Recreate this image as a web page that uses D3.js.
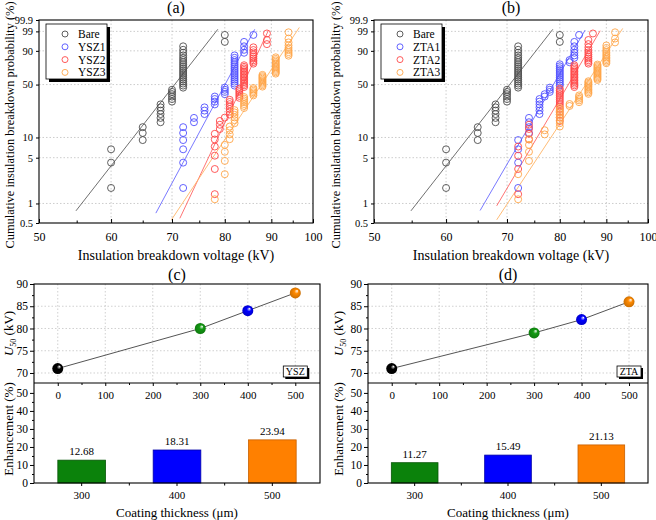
<!DOCTYPE html>
<html>
<head>
<meta charset="utf-8">
<script src="https://cdn.jsdelivr.net/npm/d3@7/dist/d3.min.js"></script>
<style>
body{margin:0;background:#fff;}
svg{display:block;}
text{font-family:"Liberation Serif","Times New Roman",serif;fill:#000;}
</style>
</head>
<body>
<svg id="chart" width="656" height="520"></svg>
<script>
// ---------------- data ----------------
const probTicks = [0.5, 1, 5, 10, 50, 90, 99, 99.9];
const voltTicks = [50, 60, 70, 80, 90, 100];
const voltMinor = [55, 65, 75, 85, 95];

// median-rank probabilities (%) for samples of 40, 50, 60
const rank40 = [1.73,4.21,6.68,9.16,11.63,14.11,16.58,19.06,21.53,24.01,
  26.49,28.96,31.44,33.91,36.39,38.86,41.34,43.81,46.29,48.76,
  51.24,53.71,56.19,58.66,61.14,63.61,66.09,68.56,71.04,73.51,
  75.99,78.47,80.94,83.42,85.89,88.37,90.84,93.32,95.79,98.27];
const rank50 = [1.39,3.37,5.36,7.34,9.33,11.31,13.29,15.28,17.26,19.25,
  21.23,23.21,25.20,27.18,29.17,31.15,33.13,35.12,37.10,39.09,
  41.07,43.06,45.04,47.02,49.01,50.99,52.98,54.96,56.94,58.93,
  60.91,62.90,64.88,66.87,68.85,70.83,72.82,74.80,76.79,78.77,
  80.75,82.74,84.72,86.71,88.69,90.67,92.66,94.64,96.63,98.61];
const rank60 = [1.16,2.81,4.47,6.13,7.78,9.44,11.09,12.75,14.40,16.06,
  17.72,19.37,21.03,22.68,24.34,25.99,27.65,29.30,30.96,32.62,
  34.27,35.93,37.58,39.24,40.89,42.55,44.21,45.86,47.52,49.17,
  50.83,52.48,54.14,55.79,57.45,59.11,60.76,62.42,64.07,65.73,
  67.38,69.04,70.70,72.35,74.01,75.66,77.32,78.97,80.63,82.28,
  83.94,85.60,87.25,88.91,90.56,92.22,93.87,95.53,97.18,98.84];

// breakdown voltages (kV), sorted
const bareV = [60,60,60,65,65,65,68,68,68,68,68,68,70,70,70,70,70,70,
  72,72,72,72,72,72,72,72,72,72,72,72,72,72,72,72,72,72,72,72,80,80];
const ysz1V = [72,72,72,72,72,72,74,74,76,76,76,78,78,78,78,80,80,80,80,
  82,82,82,82,82,82,82,82,82,82,82,82,82,82,82,82,84,84,84,84,86];
const ysz2V = [78,78,78,78,78,78,79,79,79,80,81,81,81,81,81,81,81,
  83,83,83,83,83,83,84,84,84,84,84,84,84,84,84,84,84,84,84,84,84,
  86,86,86,86,86,86,86,86,86,89,89,89];
const ysz3V = [78,80,80,80,80,81,81,81,81,82,82,82,82,82,82,
  84,84,84,84,84,84,84,86,86,86,86,86,86,
  88,88,88,88,88,88,88,88,88,88,
  91,91,91,91,91,91,91,91,91,91,91,91,91,
  94,94,94,94,94,94,94,94,94];
const zta1V = [72,72,72,72,74,74,74,74,76,76,76,76,76,76,77,77,78,78,78,
  80,80,80,80,80,80,80,80,80,80,80,80,82,82,83,83,83,83,83,83,84];
const zta2V = [72,72,72,72,74,74,74,74,
  80,80,80,80,80,80,80,80,80,80,80,80,80,80,80,
  83,83,83,83,83,83,83,83,83,83,83,83,83,83,83,
  86,86,86,86,86,86,86,86,86,86,86,87];
const zta3V = [72,72,74,74,74,74,77,77,80,80,80,80,80,80,80,80,82,82,
  84,84,84,84,84,86,86,86,86,86,86,86,86,86,86,
  88,88,88,88,88,88,88,88,88,88,88,88,88,
  90,90,90,90,90,90,90,90,90,90,90,92,92,92];

const legendA = ["Bare","YSZ1","YSZ2","YSZ3"];
const legendB = ["Bare","ZTA1","ZTA2","ZTA3"];
// Weibull fit lines: [kV start, % start, kV end, % end]
const fitA = [[54.9,0.77,78.6,99.3],[67.2,0.71,86.3,99.3],[71.4,0.59,89.3,99.1],[69.9,0.56,96.6,99.5]];
const fitB = [[54.9,0.77,78.6,99.3],[65.4,0.78,85.3,99.2],[68.2,0.92,88.6,99.1],[68.2,0.56,93.8,99.4]];

const thickness = [0, 300, 400, 500];
const u50YSZ = [71, 80, 84, 88];
const u50ZTA = [71, 79, 82, 86];
const thicknessCats = ["300", "400", "500"];
const enhYSZ = [12.68, 18.31, 23.94];
const enhZTA = [11.27, 15.49, 21.13];
const u50Ticks = [70, 75, 80, 85, 90];
const u50Minor = [72.5, 77.5, 82.5, 87.5];
const enhTicks = [0, 10, 20, 30, 40, 50];
const enhMinor = [5, 15, 25, 35, 45];
const thickTicks = [0, 100, 200, 300, 400, 500];
const thickMinor = [50, 150, 250, 350, 450];

const seriesColors = ["#4d4d4d", "#5050ff", "#ff4848", "#ffa64a"];
const lineColors = ["#606060", "#6a6aff", "#ff6464", "#ffb466"];
const sphereColors = ["#000000", "#139a13", "#0000ff", "#ff8a00"];
const barColors = ["#0b820b", "#0000ff", "#ff8000"];
const barStroke = ["#075507", "#0000a8", "#c86000"];

// ---------------- drawing ----------------
const svg = d3.select("#chart");
const W = p => Math.log(-Math.log(1 - p / 100));

const defs = svg.append("defs");
sphereColors.forEach((col, i) => {
  const gr = defs.append("radialGradient").attr("id", "sph" + i)
    .attr("cx", "0.45").attr("cy", "0.55").attr("r", "0.6")
    .attr("fx", "0.68").attr("fy", "0.3");
  gr.append("stop").attr("offset", "0").attr("stop-color", "#ffffff");
  gr.append("stop").attr("offset", "0.32").attr("stop-color", col);
  gr.append("stop").attr("offset", "1").attr("stop-color", d3.color(col).darker(0.9));
});

function styleAxis(sel, size) {
  sel.select(".domain").remove();
  sel.selectAll(".tick line").attr("stroke", "#000");
  sel.selectAll(".tick text").attr("font-size", size)
    .attr("font-family", "'Liberation Serif','Times New Roman',serif").attr("fill", "#000");
}

function weibullPanel(c) {
  const x = d3.scaleLog().domain([50, 100]).range([c.x0, c.x1]);
  const yl = d3.scaleLinear().domain([W(0.5), W(99.9)]).range([c.y1, c.y0]);
  const y = p => yl(W(p));
  const g = svg.append("g");

  g.append("g").selectAll("line").data(voltTicks.slice(1, -1)).join("line")
    .attr("x1", d => x(d)).attr("x2", d => x(d)).attr("y1", c.y0).attr("y2", c.y1)
    .attr("stroke", "#bfbfbf").attr("stroke-width", 0.8).attr("stroke-dasharray", "1.5,2");
  g.append("g").selectAll("line").data(probTicks.slice(1, -1)).join("line")
    .attr("y1", d => y(d)).attr("y2", d => y(d)).attr("x1", c.x0).attr("x2", c.x1)
    .attr("stroke", "#bfbfbf").attr("stroke-width", 0.8).attr("stroke-dasharray", "1.5,2");

  g.append("g").selectAll("line").data(c.fits).join("line")
    .attr("x1", d => x(d[0])).attr("y1", d => y(d[1]))
    .attr("x2", d => x(d[2])).attr("y2", d => y(d[3]))
    .attr("stroke", (d, i) => lineColors[i]).attr("stroke-width", 0.9);

  c.series.forEach((s, i) => {
    g.append("g").selectAll("circle")
      .data(s.v.map((v, k) => ({ v: v, p: s.p[k] }))).join("circle")
      .attr("cx", d => x(d.v)).attr("cy", d => y(d.p)).attr("r", 3.5)
      .attr("fill", "none").attr("stroke", seriesColors[i]).attr("stroke-width", 0.9);
  });

  g.append("rect").attr("x", c.x0).attr("y", c.y0)
    .attr("width", c.x1 - c.x0).attr("height", c.y1 - c.y0)
    .attr("fill", "none").attr("stroke", "#000").attr("stroke-width", 1.1);

  g.append("g").attr("transform", `translate(0,${c.y1})`)
    .call(d3.axisBottom(x).tickValues(voltTicks).tickFormat(d3.format("d"))
      .tickSizeInner(-4).tickSizeOuter(0).tickPadding(9))
    .call(s => styleAxis(s, 12));
  g.append("g").attr("transform", `translate(0,${c.y1})`)
    .call(d3.axisBottom(x).tickValues(voltMinor).tickFormat("").tickSizeInner(-2.5).tickSizeOuter(0))
    .call(s => styleAxis(s, 12));
  g.append("g").attr("transform", `translate(${c.x0},0)`)
    .call(d3.axisLeft(yl).tickValues(probTicks.map(W)).tickFormat((d, i) => probTicks[i])
      .tickSizeInner(3).tickSizeOuter(0).tickPadding(3))
    .call(s => styleAxis(s, 10.5));

  // legend
  const lg = g.append("g").attr("transform", `translate(${c.x0 + 7},${c.y0 + 4})`);
  lg.append("rect").attr("x", 3).attr("y", 3).attr("width", 61).attr("height", 55).attr("fill", "#000");
  lg.append("rect").attr("width", 61).attr("height", 55).attr("fill", "#fff")
    .attr("stroke", "#000").attr("stroke-width", 0.8);
  const items = lg.selectAll("g.it").data(c.legend).join("g").attr("class", "it")
    .attr("transform", (d, i) => `translate(0,${10 + i * 12.8})`);
  items.append("circle").attr("cx", 19).attr("cy", 0).attr("r", 3)
    .attr("fill", "none").attr("stroke", (d, i) => seriesColors[i]).attr("stroke-width", 0.9);
  items.append("text").attr("x", 32).attr("y", 4).attr("font-size", 11.5).text(d => d);

  // titles
  g.append("text").attr("x", (c.x0 + c.x1) / 2).attr("y", 13).attr("text-anchor", "middle")
    .attr("font-size", 16).text(c.title);
  g.append("text").attr("x", (c.x0 + c.x1) / 2).attr("y", 260).attr("text-anchor", "middle")
    .attr("font-size", 14).text("Insulation breakdown voltage (kV)");
  g.append("text").attr("transform", `translate(${c.ylx},125) rotate(-90)`)
    .attr("text-anchor", "middle").attr("font-size", 12.4)
    .text("Cumulative insulation breakdown probability (%)");
}

function u50Panel(c) {
  const x = d3.scaleLinear().domain([-50, c.xmax]).range([c.x0, c.x1]);
  const y = d3.scaleLinear().domain([67.75, 90]).range([c.ym, c.y0]);
  const yb = d3.scaleLinear().domain([0, 55.5]).range([c.y1, c.ym]);
  const xb = d3.scaleBand().domain(thicknessCats).range([c.x0, c.x1])
    .paddingInner(0.5).paddingOuter(0.25);
  const g = svg.append("g");

  // upper grid
  g.append("g").selectAll("line").data(thickTicks).join("line")
    .attr("x1", d => x(d)).attr("x2", d => x(d)).attr("y1", c.y0).attr("y2", c.ym)
    .attr("stroke", "#c4c4c4").attr("stroke-width", 0.8).attr("stroke-dasharray", "1.5,2");
  g.append("g").selectAll("line").data(u50Ticks.slice(0, -1)).join("line")
    .attr("y1", d => y(d)).attr("y2", d => y(d)).attr("x1", c.x0).attr("x2", c.x1)
    .attr("stroke", "#c4c4c4").attr("stroke-width", 0.8).attr("stroke-dasharray", "1.5,2");

  // line + spheres
  g.append("path").datum(thickness.map((t, i) => [t, c.u50[i]]))
    .attr("d", d3.line().x(d => x(d[0])).y(d => y(d[1])))
    .attr("fill", "none").attr("stroke", "#555").attr("stroke-width", 1);
  g.append("g").selectAll("circle").data(thickness).join("circle")
    .attr("cx", d => x(d)).attr("cy", (d, i) => y(c.u50[i])).attr("r", 5.5)
    .attr("fill", (d, i) => `url(#sph${i})`);

  // bars
  g.append("g").selectAll("rect").data(thicknessCats).join("rect")
    .attr("x", d => xb(d)).attr("y", (d, i) => yb(c.enh[i]))
    .attr("width", xb.bandwidth()).attr("height", (d, i) => yb(0) - yb(c.enh[i]))
    .attr("fill", (d, i) => barColors[i]).attr("stroke", (d, i) => barStroke[i]).attr("stroke-width", 0.8);
  g.append("g").selectAll("text").data(thicknessCats).join("text")
    .attr("x", d => xb(d) + xb.bandwidth() / 2).attr("y", (d, i) => yb(c.enh[i]) - 5)
    .attr("text-anchor", "middle").attr("font-size", 11)
    .text((d, i) => c.enh[i].toFixed(2));

  // frames
  g.append("rect").attr("x", c.x0).attr("y", c.y0).attr("width", c.x1 - c.x0).attr("height", c.y1 - c.y0)
    .attr("fill", "none").attr("stroke", "#000").attr("stroke-width", 1.1);
  g.append("line").attr("x1", c.x0).attr("x2", c.x1).attr("y1", c.ym).attr("y2", c.ym)
    .attr("stroke", "#000").attr("stroke-width", 1.1);

  // axes
  g.append("g").attr("transform", `translate(${c.x0},0)`)
    .call(d3.axisLeft(y).tickValues(u50Ticks).tickFormat(d3.format("d")).tickSizeInner(4).tickSizeOuter(0).tickPadding(2))
    .call(s => styleAxis(s, 11.5));
  g.append("g").attr("transform", `translate(${c.x0},0)`)
    .call(d3.axisLeft(y).tickValues(u50Minor).tickFormat("").tickSizeInner(2).tickSizeOuter(0))
    .call(s => styleAxis(s, 11.5));
  g.append("g").attr("transform", `translate(${c.x0},0)`)
    .call(d3.axisLeft(yb).tickValues(enhTicks).tickFormat(d3.format("d")).tickSizeInner(4).tickSizeOuter(0).tickPadding(2))
    .call(s => styleAxis(s, 11.5));
  g.append("g").attr("transform", `translate(${c.x0},0)`)
    .call(d3.axisLeft(yb).tickValues(enhMinor).tickFormat("").tickSizeInner(2).tickSizeOuter(0))
    .call(s => styleAxis(s, 11.5));
  g.append("g").attr("transform", `translate(0,${c.ym})`)
    .call(d3.axisBottom(x).tickValues(thickTicks).tickFormat(d3.format("d")).tickSizeInner(3).tickSizeOuter(0).tickPadding(5))
    .call(s => styleAxis(s, 11));
  g.append("g").attr("transform", `translate(0,${c.ym})`)
    .call(d3.axisBottom(x).tickValues(thickMinor).tickFormat("").tickSizeInner(2).tickSizeOuter(0))
    .call(s => styleAxis(s, 11));
  g.append("g").attr("transform", `translate(0,${c.y1})`)
    .call(d3.axisBottom(xb).tickSizeInner(3).tickSizeOuter(0).tickPadding(5))
    .call(s => styleAxis(s, 11));
  const bounds = thicknessCats.slice(1).map((d, i) =>
    (xb(thicknessCats[i]) + xb.bandwidth() + xb(d)) / 2);
  g.append("g").selectAll("line").data(bounds).join("line")
    .attr("x1", d => d).attr("x2", d => d).attr("y1", c.y1).attr("y2", c.y1 + 2.5)
    .attr("stroke", "#000");

  // tag box
  const tg = g.append("g").attr("transform", `translate(${x(500) - 12},${c.ym - 17})`);
  tg.append("rect").attr("x", 2).attr("y", 2).attr("width", 24).attr("height", 11).attr("fill", "#000");
  tg.append("rect").attr("width", 24).attr("height", 11).attr("fill", "#fff").attr("stroke", "#000").attr("stroke-width", 0.8);
  tg.append("text").attr("x", 12).attr("y", 9).attr("text-anchor", "middle").attr("font-size", 10).text(c.tag);

  // titles
  const cx = (c.x0 + c.x1) / 2;
  g.append("text").attr("x", cx).attr("y", 280).attr("text-anchor", "middle").attr("font-size", 16).text(c.title);
  g.append("text").attr("x", cx).attr("y", 517).attr("text-anchor", "middle").attr("font-size", 13)
    .text("Coating thickness (\u03bcm)");
  const ul = g.append("text").attr("transform", `translate(${c.ylx},${(c.y0 + c.ym) / 2}) rotate(-90)`)
    .attr("text-anchor", "middle").attr("font-size", 13);
  ul.append("tspan").attr("font-style", "italic").text("U");
  ul.append("tspan").attr("font-size", 8).attr("dy", 3).text("50");
  ul.append("tspan").attr("dy", -3).text(" (kV)");
  g.append("text").attr("transform", `translate(${c.ylx},429) rotate(-90)`)
    .attr("text-anchor", "middle").attr("font-size", 13).text("Enhancement (%)");
}

weibullPanel({ x0: 39, x1: 313, y0: 20, y1: 223, ylx: 14, title: "(a)", legend: legendA, fits: fitA,
  series: [{ v: bareV, p: rank40 }, { v: ysz1V, p: rank40 }, { v: ysz2V, p: rank50 }, { v: ysz3V, p: rank60 }] });
weibullPanel({ x0: 374, x1: 648, y0: 20, y1: 223, ylx: 340, title: "(b)", legend: legendB, fits: fitB,
  series: [{ v: bareV, p: rank40 }, { v: zta1V, p: rank40 }, { v: zta2V, p: rank50 }, { v: zta3V, p: rank60 }] });
u50Panel({ x0: 34, x1: 320, xmax: 552, y0: 284, ym: 383, y1: 483, ylx: 13, title: "(c)", tag: "YSZ", u50: u50YSZ, enh: enhYSZ });
u50Panel({ x0: 368, x1: 648, xmax: 540, y0: 284, ym: 383, y1: 483, ylx: 343, title: "(d)", tag: "ZTA", u50: u50ZTA, enh: enhZTA });
</script>
</body>
</html>
